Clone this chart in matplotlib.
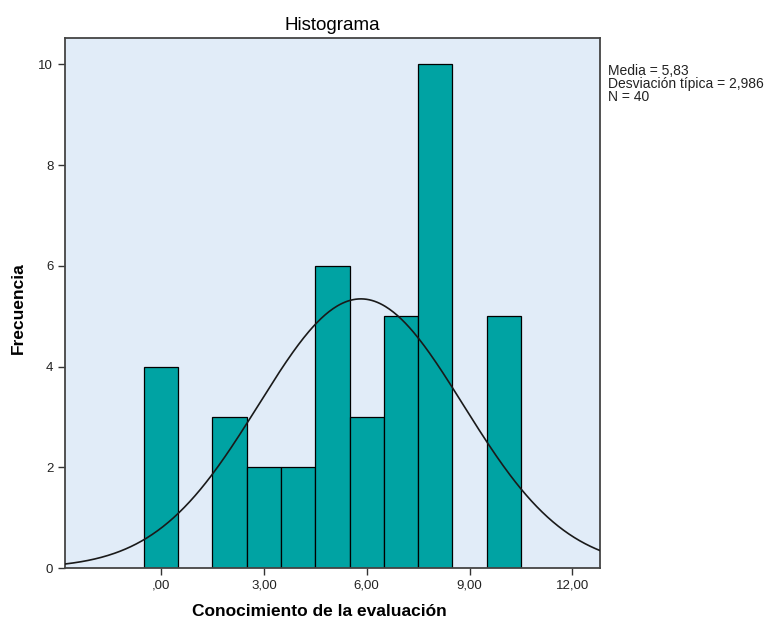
import numpy as np
import matplotlib.pyplot as plt

# Histogram data (bin centres = scores, width 1)
scores = [0, 1, 2, 3, 4, 5, 6, 7, 8, 9, 10]
counts = [4, 0, 3, 2, 2, 6, 3, 5, 10, 0, 5]
media = 5.83
desv = 2.986
n_total = 40

x_ticks = [0, 3, 6, 9, 12]
x_tick_labels = [",00", "3,00", "6,00", "9,00", "12,00"]
y_ticks = [0, 2, 4, 6, 8, 10]

plt.rcParams['font.family'] = ['Liberation Sans', 'DejaVu Sans']

fig = plt.figure(figsize=(7.66, 6.25), dpi=100)
ax = fig.add_axes([0.085, 0.091, 0.698, 0.848])
ax.set_facecolor('#E1ECF8')

heights = [c if c > 0 else np.nan for c in counts]
ax.bar(scores, heights, width=1.0, color='#00A3A3', edgecolor='black',
       linewidth=0.9, zorder=2)

# Normal curve scaled to counts
xs = np.linspace(-2.8, 12.8, 400)
ys = n_total * 1.0 / (desv * np.sqrt(2 * np.pi)) * np.exp(-0.5 * ((xs - media) / desv) ** 2)
ax.plot(xs, ys, color='#1a1a1a', linewidth=1.2, zorder=3)

ax.set_xlim(-2.8, 12.8)
ax.set_ylim(0, 10.52)
ax.set_xticks(x_ticks)
ax.set_xticklabels(x_tick_labels)
ax.set_yticks(y_ticks)
ax.tick_params(axis='both', length=5, width=1, color='#333333',
               labelsize=9.5, labelcolor='#222222')

for s in ax.spines.values():
    s.set_color('#444444')
    s.set_linewidth(1.3)

ax.set_title("Histograma", fontsize=13.5, pad=6)
ax.set_xlabel("Conocimiento de la evaluación", fontsize=12.5, fontweight='bold')
ax.set_ylabel("Frecuencia", fontsize=12.5, fontweight='bold')
ax.xaxis.set_label_coords(0.475, -0.068)
ax.yaxis.set_label_coords(-0.073, 0.49)

fig.text(0.794, 0.898,
         "Media = 5,83\nDesviación típica = 2,986\nN = 40",
         fontsize=10, va='top', ha='left', linespacing=0.93, color='#222222')

plt.savefig("out.png")
